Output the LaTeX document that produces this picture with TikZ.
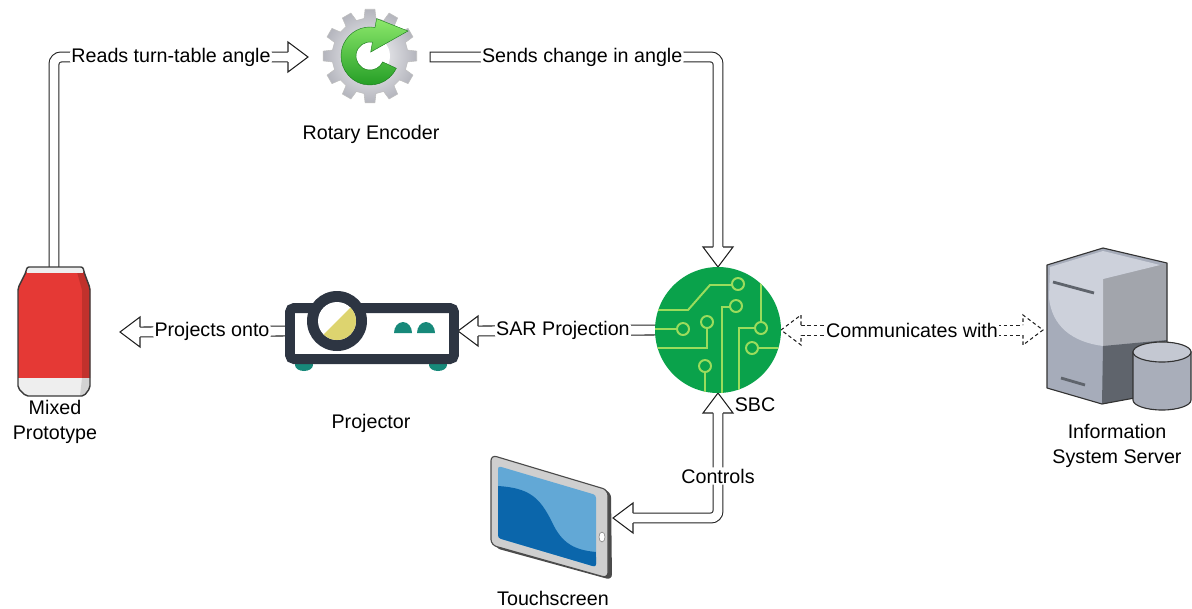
\documentclass[tikz,border=0pt]{standalone}
\usepackage{fontspec}
\setmainfont{Liberation Sans}
\usepackage{tikz}

\definecolor{arrowline}{HTML}{222222}
\definecolor{canred}{HTML}{E53935}
\definecolor{candark}{HTML}{C1312C}
\definecolor{canrim}{HTML}{EEEEEE}
\definecolor{canline}{HTML}{3A3A3A}
\definecolor{projdark}{HTML}{2D3542}
\definecolor{projteal}{HTML}{17897A}
\definecolor{lensyellow}{HTML}{DDD46F}
\definecolor{sbcgreen}{HTML}{0AA24B}
\definecolor{sbctrace}{HTML}{9BDC5C}
\definecolor{gearlight}{HTML}{FAFAFC}
\definecolor{geardark}{HTML}{B4B5BD}
\definecolor{arrowlight}{HTML}{8CE86B}
\definecolor{arrowdark}{HTML}{1F9A22}
\definecolor{srvface}{HTML}{A6ACBA}
\definecolor{srvlight}{HTML}{CDD1DB}
\definecolor{srvside}{HTML}{A2A5AC}
\definecolor{srvshade}{HTML}{5F646C}
\definecolor{srvline}{HTML}{333333}
\definecolor{cylbody}{HTML}{A9AEBA}
\definecolor{cyltop}{HTML}{C4C8D2}
\definecolor{tabgray}{HTML}{CFCFCF}
\definecolor{tabedge}{HTML}{4B4B4B}
\definecolor{screenlight}{HTML}{62A8D6}
\definecolor{screendark}{HTML}{0B66AB}

\begin{document}
\begin{tikzpicture}[x=0.025cm, y=-0.025cm,
    every node/.style={font=\fontsize{14}{17.5}\selectfont},
    shaft/.style={draw=arrowline, line width=0.75pt, double=white, double distance=6.3pt,
                  line cap=rect, rounded corners=5pt},
    dline/.style={dash pattern=on 2.5pt off 2pt},
    dshaft/.style={draw=arrowline, line width=0.6pt, dline},
    headline/.style={draw=arrowline, line width=0.75pt, fill=white, line join=miter},
    tag/.style={fill=white, inner sep=1pt},
    caption/.style={align=center, inner sep=0pt},
    spot/.style={inner sep=0pt, outer sep=0pt},
    trace/.style={draw=sbctrace, line width=1.4pt},
    pad/.style={draw=sbctrace, line width=1.4pt, fill=sbcgreen},
    flexhead/.pic={\path[headline, pic actions] (-20,5) -- (-20,15) -- (0,0) -- (-20,-15) -- (-20,-5);}
]
\useasboundingbox (0,0) rectangle (1192,608);

% places the arrows attach to
\node[spot, minimum width=1.8cm, minimum height=3.25cm] (can) at (54,332) {};
\node[spot, minimum width=3.175cm, minimum height=2.25cm] (enc) at (371.5,57) {};
\node[spot, minimum width=4.35cm, minimum height=2.05cm] (proj) at (371,331) {};
\node[spot, circle, minimum size=3.15cm] (sbc) at (718,330) {};
\node[spot, minimum width=3.7cm, minimum height=4.1cm] (srv) at (1117,330) {};
\node[spot, minimum width=3.025cm, minimum height=3.175cm] (tab) at (552.5,518) {};

%%%%%%%%%%%%%%%%%%%%%%%%%%%%%%%%%%%%%
% block arrows
\draw[shaft] (can.north) |- ([xshift=-0.5cm]enc.west)
    node[tag, pos=0.75] (readtag) {Reads turn-table angle};
\pic at (enc.west) {flexhead};

\draw[shaft] (enc.east) -| ([yshift=0.5cm]sbc.north)
    node[tag, pos=0.26] (sendtag) {Sends change in angle};
\pic[rotate=-90] at (sbc.north) {flexhead};

\draw[shaft] (sbc.west) -- ([xshift=0.5cm]proj.east)
    node[tag, pos=0.52] (sartag) {SAR Projection};
\pic[rotate=180] at (proj.east) {flexhead};

\draw[shaft] (proj.west) -- ([xshift=1.25cm]can.east)
    node[tag, midway] (ontotag) {Projects onto};
\pic[rotate=180] at ([xshift=0.75cm]can.east) {flexhead};

\draw[shaft] ([yshift=-0.5cm]sbc.south) |- ([xshift=0.5cm]tab.east)
    node[tag, pos=0.3] (ctrltag) {Controls};
\pic[rotate=90] at (sbc.south) {flexhead};
\pic[rotate=180] at (tab.east) {flexhead};

% dashed one, both ways
\draw[dshaft] ([shift={(0.5cm,3.56pt)}]sbc.east) -- ([shift={(-0.5cm,3.56pt)}]srv.west);
\draw[dshaft] ([shift={(0.5cm,-3.56pt)}]sbc.east) -- ([shift={(-0.5cm,-3.56pt)}]srv.west);
\pic[rotate=180, dline, line width=0.6pt] at (sbc.east) {flexhead};
\pic[dline, line width=0.6pt] at (srv.west) {flexhead};
\path (sbc.east) -- (srv.west) node[tag, midway] (commtag) {Communicates with};

%%%%%%%%%%%%%%%%%%%%%%%%%%%%%%%%%%%%%
% rotary encoder: gear + green arrow
\begin{scope}[shift={(370,56)}, yscale=-1]
    \shade[draw=gray!50, inner color=gearlight, outer color=geardark, line width=0.4pt]
        (-9:38) \foreach \a in {0,30,...,330} { -- (\a-9:38) -- (\a-6:47) -- (\a+6:47) -- (\a+9:38) } -- cycle;
    \fill[white] (0,0) circle (20);
    \shade[top color=arrowlight, bottom color=arrowdark, draw=arrowdark!80!black, line width=0.3pt]
        (-25:29) arc[start angle=-25, end angle=-280, radius=29]
        -- (80:38) -- (38,25) -- (80:4) -- (80:14)
        arc[start angle=80, end angle=335, radius=14] -- cycle;
\end{scope}

%%%%%%%%%%%%%%%%%%%%%%%%%%%%%%%%%%%%%
% can
\fill[canred] (26,272) -- (84,272) -- (90,288) -- (90,378) -- (18,378) -- (18,288) -- cycle;
\fill[candark] (77,272) -- (84,272) -- (90,288) -- (90,378) -- (82,378) -- (82,290) -- cycle;
\fill[canrim] (27,267) rectangle (83,273);
\fill[canrim] (18,378) -- (90,378) -- (90,388) -- (84,396) -- (26,396) -- (18,388) -- cycle;
\fill[gray!35] (82,378) -- (90,378) -- (90,388) -- (84,396) -- (80,396) -- cycle;
\draw[canline, line width=1pt, rounded corners=1.5pt]
    (27,267) -- (83,267) -- (84,272) -- (90,288) -- (90,388) -- (84,396)
    -- (26,396) -- (18,388) -- (18,288) -- (26,272) -- cycle;

%%%%%%%%%%%%%%%%%%%%%%%%%%%%%%%%%%%%%
% projector
\fill[projteal] (304,365) ellipse[x radius=9, y radius=6];
\fill[projteal] (438,365) ellipse[x radius=9, y radius=6];
\draw[projdark, line width=7.1pt, fill=white, rounded corners=3pt] (290,308) rectangle (454,359);
\fill[projteal] (394,333) arc[start angle=180, end angle=360, x radius=9, y radius=11] -- cycle;
\fill[projteal] (417,333) arc[start angle=180, end angle=360, x radius=9, y radius=11] -- cycle;
\fill[projdark] (337,321) circle (30);
\fill[white] (337,321) circle (19);
\fill[lensyellow] (337,321) ++(-45:19) arc[start angle=-45, end angle=135, radius=19] -- cycle;

%%%%%%%%%%%%%%%%%%%%%%%%%%%%%%%%%%%%%
% SBC board
\fill[sbcgreen] (sbc.center) circle (63);
\begin{scope}
    \clip (sbc.center) circle (63);
    \draw[trace] (650,310) -- (688,310) -- (710,285) -- (732,285);
    \draw[trace] (650,329) -- (677,329);
    \draw[trace] (650,348) -- (707,348) -- (707,328);
    \draw[trace] (722,400) -- (722,307) -- (730,307);
    \draw[trace] (705,372) -- (705,400);
    \draw[trace] (739,400) -- (739,328) -- (755,328);
    \draw[trace] (761,260) -- (761,322);
    \draw[trace] (758,348) -- (790,348);
    \foreach \p in {(738,284),(683,329),(707,322),(736,306),(705,366),(761,328),(752,348)}
        \draw[pad] \p circle (6);
\end{scope}

%%%%%%%%%%%%%%%%%%%%%%%%%%%%%%%%%%%%%
% server + disk
\fill[srvface] (1047,265) -- (1103,248) -- (1167,263) -- (1167,392) -- (1102,404) -- (1047,388) -- cycle;
\fill[srvside] (1103,279) -- (1167,263) -- (1167,340) -- (1103,346) -- cycle;
\fill[srvshade] (1103,346) -- (1167,340) -- (1167,392) -- (1102,404) -- cycle;
\fill[srvlight] (1050,267) -- (1103,251) -- (1160,265) -- (1103,279) -- (1103,346)
    .. controls (1072,342) and (1052,326) .. (1049,298) -- cycle;
\draw[srvline, line width=0.8pt, line join=round]
    (1047,265) -- (1103,248) -- (1167,263) -- (1167,392) -- (1102,404) -- (1047,388) -- cycle;
\draw[srvshade, line width=2pt] (1053,282) -- (1094,293);
\draw[srvshade, line width=2pt] (1061,378) -- (1085,385);
\begin{scope}[shift={(1162,352)}, yscale=-1]
    \filldraw[fill=cylbody, draw=srvline, line width=0.8pt]
        (-29,0) -- (-29,-48) arc[start angle=180, end angle=360, x radius=29, y radius=10] -- (29,0) -- cycle;
    \filldraw[fill=cyltop, draw=srvline, line width=0.8pt] (0,0) ellipse[x radius=29, y radius=10];
\end{scope}

%%%%%%%%%%%%%%%%%%%%%%%%%%%%%%%%%%%%%
% touchscreen
\fill[tabedge, rounded corners=4pt] (494,457) -- (611,492) -- (612,580) -- (495,548) -- cycle;
\filldraw[fill=tabgray, draw=tabedge, line width=0.8pt, rounded corners=4pt]
    (491,455) -- (608,490) -- (608,578) -- (491,545) -- cycle;
\begin{scope}
    \clip[rounded corners=2pt] (498,466) -- (596,495) -- (596,567) -- (498,538) -- cycle;
    \fill[screenlight] (490,460) rectangle (600,575);
    \fill[screendark] (498,486) .. controls (530,488) and (540,498) .. (552,522)
        .. controls (562,544) and (575,550) .. (596,552) -- (600,575) -- (490,575) -- cycle;
\end{scope}
\filldraw[fill=white, draw=gray] (602,537) ellipse[x radius=3, y radius=5];

%%%%%%%%%%%%%%%%%%%%%%%%%%%%%%%%%%%%%
% captions
\node[caption] (enccap) at (371,134) {Rotary Encoder};
\node[caption] (cancap) at (55,422) {Mixed\\Prototype};
\node[caption] (projcap) at (371,423) {Projector};
\node[caption] (sbccap) at (755,405) {SBC};
\node[caption] (srvcap) at (1117,446) {Information\\System Server};
\node[caption] (tabcap) at (553,598) {Touchscreen};
\end{tikzpicture}
\end{document}
